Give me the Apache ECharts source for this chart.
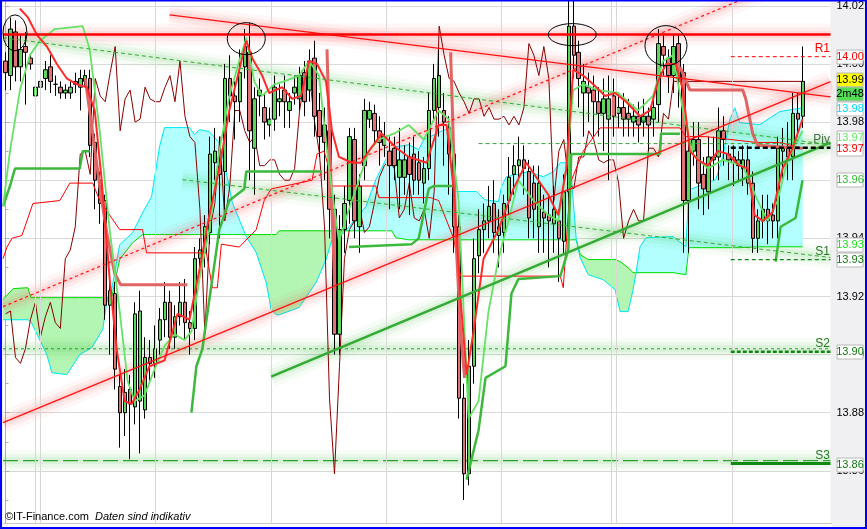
<!DOCTYPE html>
<html><head><meta charset="utf-8">
<script src="https://cdn.jsdelivr.net/npm/echarts@6/dist/echarts.min.js"></script>
<style>html,body{margin:0;padding:0;background:#fff}#c{width:867px;height:529px}</style>
</head><body><div id="c"></div>
<script>
// ---------- DATA ----------
const categories = Array.from({length:166}, (_, i) => String(i));
const openP = [14.001,13.996,14.011,13.999,14.006,14.002,13.989,13.992,13.995,13.999,
13.993,13.992,13.990,13.990,13.994,13.992,13.994,13.995,13.973,13.960,
13.953,13.917,13.921,13.889,13.880,13.888,13.882,13.884,13.881,13.899,
13.897,13.905,13.912,13.918,13.906,13.913,13.918,13.911,13.909,13.933,
13.935,13.942,13.966,13.965,13.963,13.995,13.989,13.987,13.999,14.004,
13.971,13.989,13.985,13.979,13.981,13.987,13.991,13.984,13.990,13.988,
13.997,13.991,14.002,13.984,13.979,13.977,13.950,13.907,13.943,13.953,
13.974,13.944,13.965,13.981,13.983,13.977,13.972,13.970,13.971,13.961,
13.961,13.968,13.969,13.966,13.959,13.964,13.984,13.985,13.984,13.978,
13.969,13.944,13.885,13.859,13.896,13.934,13.943,13.946,13.952,13.941,
13.942,13.953,13.962,13.965,13.967,13.963,13.959,13.944,13.949,13.948,
13.945,13.946,13.939,13.956,14.013,14.004,13.990,13.992,13.991,13.987,
13.983,13.981,13.989,13.983,13.985,13.983,13.980,13.982,13.980,13.982,
13.981,13.986,14.006,14.002,13.996,14.007,13.997,13.953,13.970,13.974,
13.962,13.956,13.967,13.968,13.977,13.969,13.968,13.965,13.964,13.967,
13.959,13.940,13.946,13.950,13.948,13.946,13.970,13.971,13.968,13.983,
13.982];
const closeP = [13.997,14.012,13.999,14.005,14.004,14.000,13.992,13.994,13.998,13.994,
13.993,13.990,13.991,13.992,13.993,13.995,13.996,13.972,13.960,13.952,
13.917,13.922,13.895,13.880,13.887,13.883,13.914,13.915,13.899,13.897,
13.902,13.912,13.918,13.906,13.913,13.918,13.911,13.909,13.933,13.936,
13.944,13.969,13.970,13.962,13.995,13.989,13.987,13.997,14.006,13.977,
13.988,13.991,13.980,13.981,13.992,13.988,13.987,13.987,13.992,13.996,
13.987,14.001,13.982,13.975,13.973,13.950,13.907,13.943,13.952,13.975,
13.946,13.958,13.984,13.984,13.977,13.973,13.975,13.965,13.965,13.967,
13.967,13.962,13.960,13.960,13.964,13.984,13.995,13.996,13.980,13.969,
13.944,13.885,13.859,13.896,13.933,13.943,13.946,13.951,13.942,13.944,
13.952,13.961,13.965,13.967,13.964,13.947,13.950,13.959,13.947,13.946,
13.950,13.940,13.956,14.013,14.003,13.995,13.994,13.990,13.987,13.983,
13.988,13.988,13.982,13.985,13.981,13.981,13.982,13.979,13.982,13.979,
13.985,14.007,14.003,13.996,14.006,13.995,13.953,13.970,13.974,13.959,
13.957,13.968,13.968,13.977,13.974,13.967,13.966,13.967,13.967,13.959,
13.940,13.946,13.950,13.946,13.946,13.971,13.971,13.968,13.983,13.981,
13.994];
const highP = [14.004,14.016,14.015,14.010,14.011,14.003,13.995,13.996,14.001,14.003,
13.996,13.994,13.993,13.994,13.997,13.998,13.998,13.998,13.976,13.963,
13.955,13.925,13.925,13.893,13.895,13.893,13.918,13.922,13.906,13.905,
13.910,13.916,13.925,13.922,13.917,13.925,13.926,13.915,13.937,13.940,
13.948,13.975,13.978,13.975,14.000,14.003,13.994,14.005,14.012,14.014,
13.992,13.995,13.990,13.985,13.996,13.993,13.996,13.990,13.996,13.999,
14.001,14.005,14.008,13.990,13.985,13.982,13.955,13.948,13.958,13.978,
13.978,13.962,13.988,13.987,13.986,13.982,13.980,13.975,13.975,13.978,
13.972,13.973,13.975,13.970,13.968,13.990,14.000,14.005,13.990,13.982,
13.973,13.948,13.890,13.905,13.940,13.950,13.952,13.958,13.960,13.950,
13.955,13.968,13.972,13.975,13.972,13.967,13.965,13.965,13.955,13.955,
13.958,13.950,13.962,14.022,14.022,14.008,14.000,13.997,13.996,13.992,
13.995,13.996,13.995,13.990,13.990,13.988,13.986,13.987,13.988,13.985,
13.990,14.012,14.010,14.005,14.010,14.010,14.000,13.975,13.980,13.980,
13.968,13.975,13.975,13.985,13.982,13.972,13.972,13.970,13.972,13.972,
13.963,13.950,13.955,13.955,13.952,13.975,13.978,13.980,13.990,13.990,
14.006];
const lowP = [13.991,13.991,13.994,13.994,13.986,13.998,13.987,13.989,13.991,13.990,
13.989,13.988,13.988,13.988,13.990,13.984,13.992,13.968,13.950,13.945,
13.912,13.900,13.888,13.868,13.872,13.864,13.876,13.866,13.878,13.890,
13.892,13.900,13.906,13.902,13.902,13.910,13.905,13.900,13.905,13.928,
13.930,13.938,13.960,13.940,13.950,13.980,13.974,13.980,13.995,13.960,
13.955,13.982,13.974,13.975,13.977,13.982,13.978,13.978,13.986,13.984,
13.982,13.987,13.975,13.968,13.960,13.940,13.900,13.900,13.935,13.945,
13.940,13.935,13.960,13.978,13.972,13.965,13.968,13.950,13.960,13.950,
13.955,13.948,13.955,13.955,13.952,13.960,13.980,13.975,13.965,13.955,
13.935,13.878,13.850,13.855,13.890,13.928,13.935,13.940,13.935,13.930,
13.935,13.948,13.955,13.960,13.955,13.940,13.940,13.935,13.935,13.930,
13.935,13.925,13.935,13.950,13.995,13.985,13.975,13.980,13.975,13.975,
13.970,13.960,13.975,13.978,13.975,13.975,13.975,13.973,13.975,13.970,
13.975,13.980,13.996,13.990,13.990,13.985,13.935,13.935,13.965,13.950,
13.948,13.950,13.960,13.960,13.965,13.960,13.958,13.960,13.958,13.955,
13.935,13.935,13.940,13.938,13.940,13.940,13.960,13.960,13.960,13.975,
13.978];

// Ichimoku cloud knots (bar index) with span A (green) and span B (cyan)
const cloudX = [-0.5,1.5,4.5,5.1,8.3,9.3,12.3,14.9,17.3,19.5,20.3,21.3,22.9,25.5,27.5,29.3,30.9,31.9,36.9,37.9,
38.9,40.9,42.9,44.3,45.5,48.3,50.3,52.3,53.3,54.3,54.9,58.9,62.3,64.3,65.5,67.9,70.9,72.3,74.3,76.3,
77.5,78.3,80.9,82.9,83.9,87.3,89.3,90.1,94.5,96.1,98.9,99.5,100.5,104.9,107.9,109.9,111.3,113.3,114.5,115.3,
116.9,119.9,122.3,123.3,124.9,125.9,126.5,127.3,128.5,133.9,136.5,137.1,139.9,142.5,143.9,145.3,146.3,147.3,151.3,155.3,159.9];
const spanA = [13.9189,13.9227,13.9230,13.9196,13.9196,13.9196,13.9196,13.9196,13.9196,13.9196,13.9196,13.9196,13.9327,13.9385,13.9413,13.9413,13.9413,13.9413,13.9413,13.9413,
13.9413,13.9413,13.9413,13.9413,13.9413,13.9413,13.9413,13.9413,13.9413,13.9413,13.9426,13.9426,13.9426,13.9426,13.9426,13.9426,13.9426,13.9426,13.9426,13.9426,
13.9426,13.9402,13.9395,13.9395,13.9395,13.9395,13.9395,13.9395,13.9395,13.9395,13.9395,13.9395,13.9395,13.9395,13.9395,13.9395,13.9395,13.9395,13.9395,13.9344,
13.9327,13.9327,13.9327,13.9320,13.9299,13.9282,13.9282,13.9282,13.9282,13.9282,13.9275,13.9368,13.9368,13.9368,13.9368,13.9368,13.9368,13.9368,13.9371,13.9371,13.9371];
const spanB = [13.9120,13.9120,13.9120,13.9113,13.9000,13.8938,13.8931,13.9000,13.9024,13.9086,13.9179,13.9223,13.9378,13.9419,13.9488,13.9543,13.9715,13.9781,13.9781,13.9757,
13.9774,13.9767,13.9729,13.9626,13.9523,13.9406,13.9351,13.9248,13.9155,13.9137,13.9137,13.9162,13.9248,13.9327,13.9395,13.9419,13.9481,13.9509,13.9602,13.9671,
13.9705,13.9715,13.9722,13.9705,13.9739,13.9767,13.9781,13.9561,13.9561,13.9533,13.9526,13.9578,13.9612,13.9629,13.9612,13.9629,13.9660,13.9660,13.9395,13.9333,
13.9275,13.9258,13.9223,13.9148,13.9148,13.9223,13.9282,13.9371,13.9402,13.9406,13.9371,13.9567,13.9585,13.9602,13.9681,13.9808,13.9849,13.9798,13.9791,13.9836,13.9849];

// moving average / indicator lines: [bar index, price]
const maRed = [[2.9,14.019],[4.5,14.016],[6.3,14.010],[8.3,14.006],[10.3,14.000],[12.3,13.995],[14.3,13.993],[16.3,13.992],[17.9,13.984],[19.3,13.960],
[20.9,13.926],[22.3,13.902],[23.9,13.884],[25.3,13.883],[26.9,13.888],[28.9,13.896],[31.9,13.898],[34.5,13.914],[36.9,13.912],[38.9,13.929],
[40.9,13.948],[42.9,13.964],[44.9,13.984],[46.9,13.998],[48.3,14.008],[49.5,14.002],[51.5,13.996],[52.9,13.990],[55.5,13.992],[57.5,13.988],
[59.3,13.989],[60.9,14.001],[62.5,14.000],[64.3,13.994],[65.5,13.977],[66.9,13.968],[69.5,13.966],[71.3,13.966],[73.3,13.971],[75.5,13.976],
[78.5,13.971],[80.9,13.968],[84.5,13.966],[86.9,13.979],[88.5,13.979],[89.9,13.957],[91.3,13.919],[92.5,13.893],[93.9,13.908],[95.9,13.933],
[98.9,13.943],[101.9,13.957],[104.5,13.966],[106.9,13.960],[108.9,13.955],[110.9,13.948],[112.5,13.964],[113.9,13.998],[115.9,13.996],[117.9,13.993],
[120.3,13.989],[122.3,13.990],[124.5,13.987],[127.3,13.982],[129.3,13.984],[130.9,13.994],[132.5,14.000],[134.5,14.000],[135.9,13.991],[137.3,13.970],
[138.9,13.967],[140.9,13.965],[142.9,13.970],[144.9,13.969],[147.3,13.965],[148.9,13.964],[150.3,13.948],[151.9,13.946],[153.9,13.949],[155.9,13.964],
[157.9,13.971],[159.9,13.981]];
const maLime = [[-0.5,13.951],[0.9,13.970],[2.9,13.991],[4.9,14.003],[6.9,14.008],[9.9,14.012],[15.5,14.013],[16.9,14.005],[18.9,13.977],[20.9,13.943],
[22.9,13.915],[24.5,13.891],[25.9,13.884],[27.9,13.886],[29.9,13.895],[31.9,13.903],[33.9,13.907],[35.9,13.905],[37.3,13.908],[38.9,13.926],
[40.9,13.943],[42.9,13.970],[44.9,13.989],[46.9,14.001],[48.3,14.009],[49.9,13.994],[51.5,13.989],[53.9,13.993],[55.9,13.994],[58.9,13.996],
[60.9,14.001],[62.9,13.996],[64.9,13.964],[66.9,13.939],[68.9,13.950],[70.9,13.960],[72.9,13.970],[74.9,13.974],[77.9,13.976],[80.9,13.979],
[83.9,13.974],[86.9,13.984],[88.9,13.981],[90.9,13.953],[92.9,13.878],[94.9,13.884],[96.9,13.915],[98.9,13.933],[100.9,13.946],[102.9,13.960],
[105.9,13.953],[108.9,13.948],[110.9,13.946],[112.5,13.964],[113.9,13.991],[115.9,13.993],[118.9,13.991],[122.9,13.990],[126.9,13.984],[129.9,13.989],
[131.9,14.001],[133.9,14.003],[135.9,13.984],[137.9,13.969],[140.9,13.964],[143.9,13.967],[147.9,13.965],[150.9,13.953],[152.9,13.946],[154.9,13.953],
[156.9,13.967],[159.9,13.977]];
const kijunGreen = [
 [[-0.5,13.951],[0.9,13.958],[1.9,13.964],[14.9,13.964],[15.5,13.970],[16.9,13.970]],
 [[37.3,13.880],[38.3,13.896],[39.5,13.902],[40.9,13.919],[42.9,13.943],[44.9,13.953],[47.9,13.957],[48.3,13.963],[63.5,13.963]],
 [[68.9,13.937],[81.5,13.938],[82.9,13.940],[84.9,13.957],[85.9,13.958],[89.9,13.958]],
 [[92.5,13.857],[94.9,13.874],[96.3,13.892],[100.3,13.896],[101.5,13.921],[102.9,13.926],[111.3,13.927],[112.9,13.936],[113.5,13.969],[131.3,13.969],[131.5,13.976],[135.3,13.976]],
 [[154.5,13.932],[155.5,13.944],[158.5,13.947],[159.9,13.960]]
];
const tenkanRed = [[-0.5,13.933],[0.3,13.937],[1.3,13.940],[3.3,13.941],[5.5,13.952],[10.9,13.953],[12.9,13.959],[17.5,13.959],[18.9,13.953],[22.9,13.943],
[27.5,13.943],[28.3,13.935],[40.3,13.935],[41.5,13.923],[42.5,13.923],[43.3,13.938],[46.9,13.937],[50.3,13.943],[51.9,13.953],[53.3,13.957],
[61.5,13.960],[62.5,13.969],[63.9,13.970],[64.9,13.964],[65.5,13.958],[74.3,13.958],[74.9,13.954],[85.3,13.954],[86.9,13.953],[89.9,13.940],
[91.3,13.927],[111.3,13.927],[111.9,13.923],[113.3,13.959],[115.9,13.970],[119.3,13.978],[135.3,13.978],[136.5,13.975],[140.5,13.975],[150.5,13.973],
[155.3,13.973],[159.9,13.971]];
const kijunPink = [
 [[16.0,13.995],[17.5,13.976],[18.9,13.958],[20.3,13.942],[21.9,13.928],[23.1,13.924],[36.5,13.924]],
 [[64.5,14.005],[64.9,13.981],[65.5,13.949],[66.1,13.922]],
 [[89.3,14.004],[89.9,13.970],[90.3,13.942],[91.3,13.908],[92.1,13.892]],
 [[135.3,13.999],[137.3,13.991],[147.9,13.991],[148.5,13.988],[149.9,13.976],[150.9,13.972],[159.9,13.971]]
];

// trend lines and levels
const trendRedUpper = [[32.9,14.0169],[165.5,13.9887]];
const trendRedDash = [[-0.5,13.9165],[165.5,14.0348]];
const trendRedLower = [[-0.5,13.8766],[165.5,13.9939]];
const trendGreenThick = [[53.3,13.8924],[165.5,13.9729]];
const trendGreenDash1 = [[-0.5,14.0090],[165.5,13.9722]];
const trendGreenDash2 = [[35.5,13.9602],[165.5,13.9334]];
const trendGreenDash3 = [[94.9,13.9726],[165.5,13.9726]];
const resistLevel = 14.0101;
const supportLong1 = 13.9020;
const supportLong2 = 13.8635;
const pivotNames = ['R1','Piv','S1','S2','S3'];
const pivotValues = [14.0025, 13.9712, 13.9327, 13.9010, 13.8625];
const pivotFrom = 145.5, pivotTo = 165.5;
const sessionLines = [5.9, 6.9, 30.1, 53.4, 76.4, 99.4, 121.6, 122.6, 145.7];
const highlightCenters = [[1.9,14.0107],[48.3,14.0087],[113.7,14.0101],[132.5,14.0063]];
const tagTexts = ['14.00','13.97','13.99','2m48','13.98','13.97','13.96','13.93','13.93','13.90','13.86'];
const tagValues = [14.0025,13.9706,13.9945,13.9897,13.9846,13.9746,13.9602,13.9378,13.9327,13.9010,13.8620];

// ---------- STYLES ----------
const tagColors = ['#ff0000','#ff0000','#000000','#000000','#00e0ff','#66ee66','#33bb33','#22dd22','#117711','#117711','#117711'];
const tagBgs = ['#fff','#fff','#ffff00','#55dd55','#fff','#fff','#fff','#fff','#fff','#fff','#fff'];
const ellipseRadii = [[12,18],[19,16],[24,11],[21,20]];
const pivotStyles = [
  {color:'#ff0000', width:1, type:[4,3], label:'#ff0000'},
  {color:'#000000', width:2.5, type:[5,3], label:'#4a6a4a'},
  {color:'#118811', width:1.2, type:[4,3], label:'#227722'},
  {color:'#118811', width:2.5, type:[4,2], label:'#227722'},
  {color:'#118811', width:3, type:'solid', label:'#227722'}
];
const FONT = '"Liberation Sans", Arial, sans-serif';
const RED_GLOW = [255,70,70];
const GREEN_GLOW = [70,195,70];

const chart = echarts.init(document.getElementById('c'));
const candleData = openP.map((o, i) => [o, closeP[i], lowP[i], highP[i]]);
const chikou = closeP.slice(26).map((c, i) => [i, c]);
chikou.push([160, closeP[160]]);

function lineS(data, color, width, opts) {
  opts = opts || {};
  return {
    type:'line', xAxisIndex:1, yAxisIndex:0, data:data, symbol:'none', silent:true,
    animation:false, z: opts.z || 5,
    lineStyle: {color:color, width:width, type: opts.type || 'solid'}
  };
}
function glowS(data, rgb, z) {
  const layers = [[22,0.045],[14,0.06],[7,0.09]];
  return layers.map(l => {
    const c = 'rgba(' + rgb.join(',') + ',' + l[1] + ')';
    return {type:'line', xAxisIndex:1, yAxisIndex:0, data:data, symbol:'none', silent:true, animation:false, z:z,
      lineStyle:{color:c, width:l[0], shadowColor:'rgba(' + rgb.join(',') + ',' + (l[1]*2) + ')', shadowBlur:8}};
  });
}

const series = [];
// session grid lines
series.push({type:'line', xAxisIndex:1, data:[], z:1.5, silent:true,
  markLine:{symbol:'none', silent:true, animation:false, label:{show:false},
    lineStyle:{color:'#d8d8d8', type:'solid', width:1},
    data: sessionLines.map(x => ({xAxis:x}))}});
// cloud fill
series.push({
  type:'custom', xAxisIndex:1, yAxisIndex:0, z:1, silent:true, data:[[0,13.95]],
  renderItem: function(params, api) {
    const kids = [];
    const P = (x, y) => api.coord([x, y]);
    const poly = (pts, green) => ({type:'polygon', shape:{points:pts},
      style:{fill: green ? '#b3f5b3' : '#b3ffff', stroke: green ? '#b3f5b3' : '#b3ffff', lineWidth:0.6}});
    for (let k = 0; k < cloudX.length - 1; k++) {
      const x0 = cloudX[k], x1 = cloudX[k+1];
      const a0 = spanA[k], a1 = spanA[k+1], b0 = spanB[k], b1 = spanB[k+1];
      const d0 = a0 - b0, d1 = a1 - b1;
      if (d0 * d1 < 0) {
        const t = d0 / (d0 - d1);
        const xc = x0 + t * (x1 - x0), yc = a0 + t * (a1 - a0);
        kids.push(poly([P(x0,a0), P(xc,yc), P(x0,b0)], d0 > 0));
        kids.push(poly([P(xc,yc), P(x1,a1), P(x1,b1)], d1 > 0));
      } else {
        kids.push(poly([P(x0,a0), P(x1,a1), P(x1,b1), P(x0,b0)], d0 + d1 >= 0));
      }
    }
    return {type:'group', children:kids};
  }
});
series.push(lineS(cloudX.map((x,i)=>[x, spanA[i]]), '#00e000', 1, {z:2}));
series.push(lineS(cloudX.map((x,i)=>[x, spanB[i]]), '#00e8f5', 1, {z:2}));
// glows
const hLong1 = [[-0.5,supportLong1],[165.5,supportLong1]];
const hLong2 = [[-0.5,supportLong2],[165.5,supportLong2]];
const hRes = [[-0.5,resistLevel],[165.5,resistLevel]];
[hLong1, hLong2, trendGreenThick, trendGreenDash1, trendGreenDash2].forEach(d => glowS(d, GREEN_GLOW, 2.2).forEach(s => series.push(s)));
[hRes, trendRedUpper, trendRedDash, trendRedLower].forEach(d => glowS(d, RED_GLOW, 2.2).forEach(s => series.push(s)));
// long horizontal levels
series.push(lineS(hLong1, '#2ea02e', 1, {type:[3,3], z:2.5}));
series.push(lineS(hLong2, '#2ea02e', 1.3, {type:[15,5], z:2.5}));
// chikou
series.push(lineS(chikou, '#8b0000', 1, {z:3}));
// candles
series.push({
  type:'candlestick', xAxisIndex:0, yAxisIndex:0, data:candleData, barWidth:4, z:4, silent:true,
  itemStyle:{color:'#5cd65c', color0:'#e07474', borderColor:'#000', borderColor0:'#000', borderWidth:1}
});
// indicators
series.push(lineS(tenkanRed, '#ff0000', 1, {z:5}));
kijunPink.forEach(s => series.push(lineS(s, '#e06464', 3, {z:5})));
kijunGreen.forEach(s => series.push(lineS(s, '#3cb93c', 2.5, {z:5})));
series.push(lineS(maLime, '#66e266', 1.8, {z:5}));
series.push(lineS(maRed, '#ff2a2a', 2, {z:6}));
// trend lines
series.push(lineS(trendGreenDash1, '#33aa33', 1, {type:[4,3], z:7}));
series.push(lineS(trendGreenDash2, '#33aa33', 1, {type:[4,3], z:7}));
series.push(lineS(trendGreenDash3, '#33aa33', 1, {type:[4,3], z:7}));
series.push(lineS(trendRedUpper, '#ff1010', 1.2, {z:7}));
series.push(lineS(trendRedDash, '#ff1010', 1.2, {type:[3,3], z:7}));
series.push(lineS(trendRedLower, '#ff1010', 1.2, {z:7}));
series.push(lineS(trendGreenThick, '#33aa33', 2.5, {z:7}));
series.push(lineS(hRes, '#ff0000', 2.5, {z:7}));
pivotValues.forEach((v, i) => {
  const st = pivotStyles[i];
  series.push(lineS([[pivotFrom, v],[pivotTo, v]], st.color, st.width, {type:st.type, z:7}));
});
// highlight ellipses
series.push({
  type:'custom', xAxisIndex:1, yAxisIndex:0, z:8, silent:true, data:highlightCenters,
  renderItem: function(params, api) {
    const c = api.coord([api.value(0), api.value(1)]);
    const r = ellipseRadii[params.dataIndex];
    return {type:'path', shape:{pathData:'M0,50A50,50 0 1,0 100,50A50,50 0 1,0 0,50Z',
      x:c[0]-r[0], y:c[1]-r[1], width:2*r[0], height:2*r[1], layout:'cover'},
      style:{fill:'none', stroke:'#000', lineWidth:1}};
  }
});

chart.setOption({
  animation:false,
  backgroundColor:'#f0f0f2',
  grid:{left:3, right:35, top:0, bottom:0, show:true, backgroundColor:'#ffffff', borderWidth:0},
  xAxis:[
    {type:'category', data:categories, show:false, boundaryGap:true},
    {type:'value', min:-0.5, max:165.5, show:false}
  ],
  yAxis:{type:'value', position:'right', min:13.84, max:14.022, interval:0.02,
    axisLine:{show:true, lineStyle:{color:'#a8b0b8'}},
    axisTick:{show:true, length:4, lineStyle:{color:'#a8b0b8'}},
    minorTick:{show:true, splitNumber:2, length:3, lineStyle:{color:'#a8b0b8'}},
    splitLine:{show:true, lineStyle:{color:'#dadada'}},
    minorSplitLine:{show:false},
    axisLabel:{color:'#000', fontSize:11, fontFamily:FONT, margin:6,
      formatter: v => v < 13.85 ? '' : v.toFixed(2)}
  },
  series: series
});

// overlay: tags, pivot labels, footer, frame
const g = [];
tagTexts.forEach((t, i) => {
  const y = chart.convertToPixel({yAxisIndex:0}, tagValues[i]);
  g.push({type:'rect', z:100, shape:{x:837, y:Math.round(y)-7, width:26, height:14},
    style:{fill:tagBgs[i], stroke:'#b8b8b8', lineWidth:1}});
  g.push({type:'text', z:101, x:850, y:Math.round(y), style:{text:t, fill:tagColors[i],
    font:'11px ' + FONT, textAlign:'center', textVerticalAlign:'middle'}});
});
pivotNames.forEach((n, i) => {
  const y = chart.convertToPixel({yAxisIndex:0}, pivotValues[i]);
  g.push({type:'text', z:100, x:830, y:y-2, style:{text:n, fill:pivotStyles[i].label,
    font:'12px ' + FONT, textAlign:'right', textVerticalAlign:'bottom'}});
});
g.push({type:'line', z:100, shape:{x1:3, y1:523.5, x2:832, y2:523.5}, style:{stroke:'#c8c8c8', lineWidth:1}});
g.push({type:'rect', z:99, shape:{x:3, y:524, width:829, height:5}, style:{fill:'#ffffff'}});
g.push({type:'text', z:100, x:5, y:517, style:{text:'\u00A9IT-Finance.com', fill:'#000', font:'11px ' + FONT, textVerticalAlign:'middle'}});
g.push({type:'text', z:100, x:95, y:517, style:{text:'Daten sind indikativ', fill:'#000', font:'italic 11px ' + FONT, textVerticalAlign:'middle'}});
g.push({type:'rect', z:120, shape:{x:1, y:0.5, width:865, height:527.5}, style:{fill:'none', stroke:'#0000ff', lineWidth:2}});
chart.setOption({graphic:g});
</script>
</body></html>
